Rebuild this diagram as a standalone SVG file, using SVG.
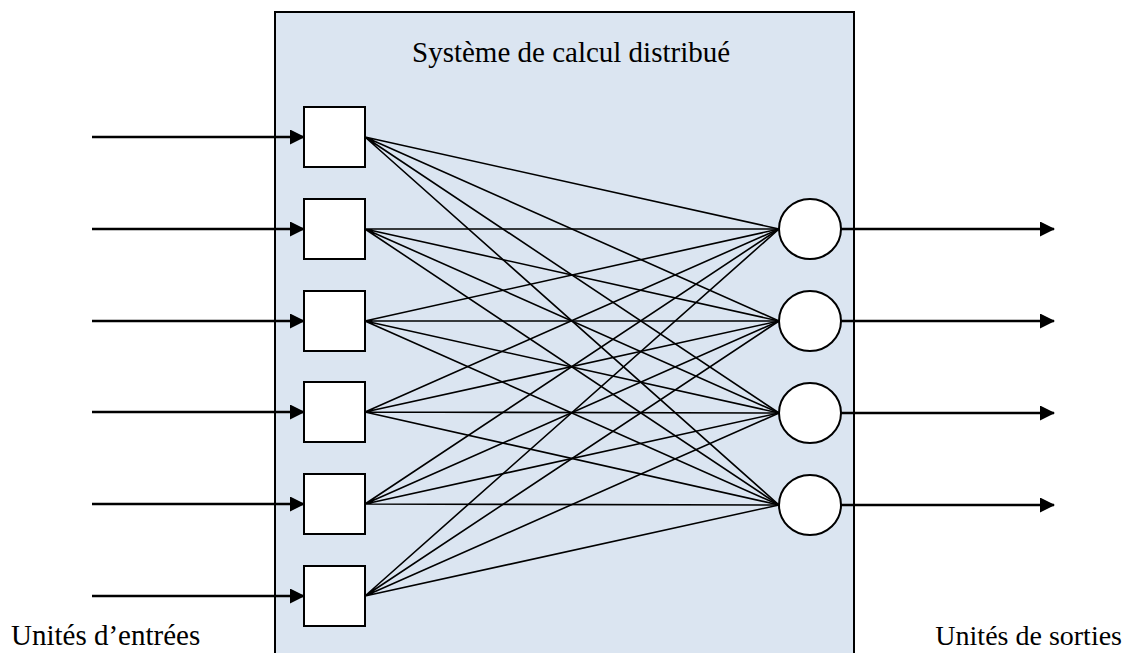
<svg xmlns="http://www.w3.org/2000/svg" width="1131" height="653" viewBox="0 0 1131 653">
<style>
.sq{fill:#fff;stroke:#000;stroke-width:2}
.ci{fill:#fff;stroke:#000;stroke-width:2}
.ln{stroke:#000;stroke-width:1.6;fill:none}
.ar{stroke:#000;stroke-width:2.5;fill:none}
.t{font-family:"Liberation Serif","Times New Roman",serif;font-size:29px;fill:#000}
</style>
<defs>
<marker id="ah" markerWidth="15" markerHeight="15" refX="14" refY="7.5" orient="auto" markerUnits="userSpaceOnUse">
<path d="M0,0 L15,7.5 L0,15 Z" fill="#000"/>
</marker>
</defs>
<rect id="system" x="275" y="12" width="579" height="660" fill="#dbe5f1" stroke="#000" stroke-width="2"/>
<text class="t" x="412" y="62">Système de calcul distribué</text>
<g id="connectors">
<g class="ln">
<path d="M365,137 L779,229 M365,137 L779,321 M365,137 L779,413 M365,137 L779,505"/>
<path d="M365,229 L779,229 M365,229 L779,321 M365,229 L779,413 M365,229 L779,505"/>
<path d="M365,321 L779,229 M365,321 L779,321 M365,321 L779,413 M365,321 L779,505"/>
<path d="M365,412 L779,229 M365,412 L779,321 M365,412 L779,413 M365,412 L779,505"/>
<path d="M365,504 L779,229 M365,504 L779,321 M365,504 L779,413 M365,504 L779,505"/>
<path d="M365,596 L779,229 M365,596 L779,321 M365,596 L779,413 M365,596 L779,505"/>
</g>
<g class="ar" marker-end="url(#ah)">
<line x1="92" y1="137" x2="304" y2="137"/>
<line x1="92" y1="229" x2="304" y2="229"/>
<line x1="92" y1="321" x2="304" y2="321"/>
<line x1="92" y1="412" x2="304" y2="412"/>
<line x1="92" y1="504" x2="304" y2="504"/>
<line x1="92" y1="596" x2="304" y2="596"/>
<line x1="841" y1="229" x2="1054" y2="229"/>
<line x1="841" y1="321" x2="1054" y2="321"/>
<line x1="841" y1="413" x2="1054" y2="413"/>
<line x1="841" y1="505" x2="1054" y2="505"/>
</g>
</g>
<g id="in1"><rect class="sq" x="304" y="107" width="61" height="60"/></g>
<g id="in2"><rect class="sq" x="304" y="199" width="61" height="60"/></g>
<g id="in3"><rect class="sq" x="304" y="291" width="61" height="60"/></g>
<g id="in4"><rect class="sq" x="304" y="382" width="61" height="60"/></g>
<g id="in5"><rect class="sq" x="304" y="474" width="61" height="60"/></g>
<g id="in6"><rect class="sq" x="304" y="566" width="61" height="60"/></g>
<g id="out1"><ellipse class="ci" cx="810" cy="229" rx="31" ry="30"/></g>
<g id="out2"><ellipse class="ci" cx="810" cy="321" rx="31" ry="30"/></g>
<g id="out3"><ellipse class="ci" cx="810" cy="413" rx="31" ry="30"/></g>
<g id="out4"><ellipse class="ci" cx="810" cy="505" rx="31" ry="30"/></g>
<text class="t" x="11" y="645">Unités d’entrées</text>
<text class="t" x="1122" y="645" text-anchor="end" style="font-size:28px">Unités de sorties</text>
</svg>
